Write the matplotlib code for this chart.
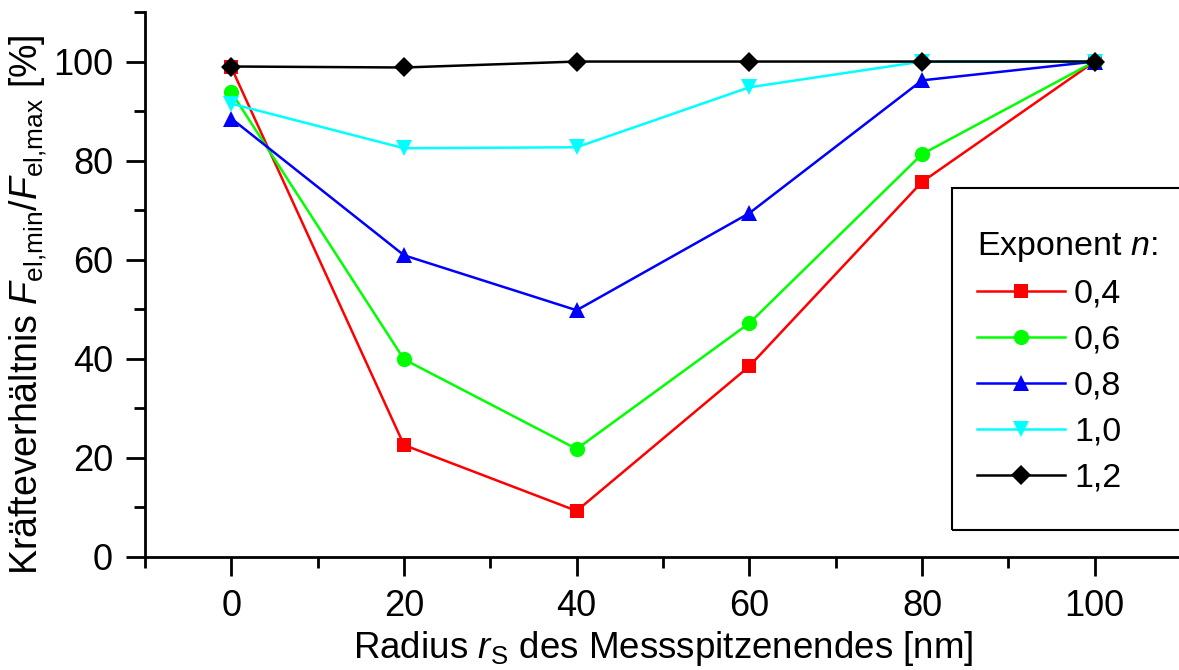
import numpy as np
import matplotlib
matplotlib.use("Agg")
import matplotlib.pyplot as plt
from matplotlib.patches import Rectangle
from matplotlib.ticker import MultipleLocator

plt.rcParams['font.family'] = ['Liberation Sans', 'DejaVu Sans']
plt.rcParams['mathtext.fontset'] = 'custom'
plt.rcParams['mathtext.rm'] = 'Liberation Sans'
plt.rcParams['mathtext.it'] = 'Liberation Sans:italic'

# ---- data ----
radius_nm = [0, 20, 40, 60, 80, 100]
exponents = ['0,4', '0,6', '0,8', '1,0', '1,2']
ratio_n04 = [98.8, 22.6, 9.3, 38.5, 75.7, 100.0]
ratio_n06 = [93.8, 39.9, 21.8, 47.2, 81.3, 100.0]
ratio_n08 = [88.5, 60.9, 49.8, 69.4, 96.2, 100.0]
ratio_n10 = [91.5, 82.5, 82.7, 94.8, 100.0, 100.0]
ratio_n12 = [99.0, 98.8, 100.0, 100.0, 100.0, 100.0]

series = [ratio_n04, ratio_n06, ratio_n08, ratio_n10, ratio_n12]
colors = ['#ff0000', '#00ff00', '#0000ff', '#00ffff', '#000000']
markers = ['s', 'o', '^', 'v', 'D']
msizes = [10.5, 11, 11.5, 11.5, 10]

W, H = 1179, 670
fig = plt.figure(figsize=(W / 100, H / 100), dpi=100)
# axes reach past the right edge like the cropped original
ax = fig.add_axes([145 / W, 113 / H, (1181 - 145) / W, (658 - 113) / H])

for vals, c, m, ms, lab in zip(series, colors, markers, msizes, exponents):
    ax.plot(radius_nm, vals, color=c, marker=m, ms=ms, lw=1.8,
            markeredgewidth=0, label=lab, clip_on=False)

ax.set_xlim(-10, 110)
ax.set_ylim(0, 110)
ax.xaxis.set_minor_locator(MultipleLocator(10))
ax.yaxis.set_minor_locator(MultipleLocator(10))
ax.set_xticks([0, 20, 40, 60, 80, 100])
ax.set_yticks([0, 20, 40, 60, 80, 100])

for s in ['top', 'right']:
    ax.spines[s].set_visible(False)
for s in ['left', 'bottom']:
    ax.spines[s].set_linewidth(2)

ax.tick_params(which='major', direction='out', length=14, width=2,
               labelsize=26, pad=9)
ax.tick_params(which='minor', direction='out', length=8, width=2)

ax.set_xlabel(r'Radius $\it{r}$$_\mathrm{S}$ des Messspitzenendes [nm]',
              fontsize=26.5, labelpad=4)
ax.set_ylabel(r'Kräfteverhältnis $\it{F}_\mathrm{el{,}min}/\it{F}_\mathrm{el{,}max}$ [%]',
              fontsize=27)
ax.yaxis.set_label_coords(-0.093, 0.462)

# legend frame (runs off the right edge)
fig.patches.append(Rectangle((952 / W, 140 / H), 400 / W, (482 - 140) / H,
                             transform=fig.transFigure, fill=False,
                             edgecolor='black', lw=1.5))
leg = ax.legend(loc='upper left', bbox_to_anchor=(960 / W, 457 / H),
                bbox_transform=fig.transFigure, frameon=False,
                title=r'Exponent $\it{n}$:', title_fontsize=24.5, fontsize=24.5,
                handlelength=2.6, handletextpad=0.25, labelspacing=0.44,
                alignment='left', borderpad=0)

fig.savefig('out.png', dpi=100)
